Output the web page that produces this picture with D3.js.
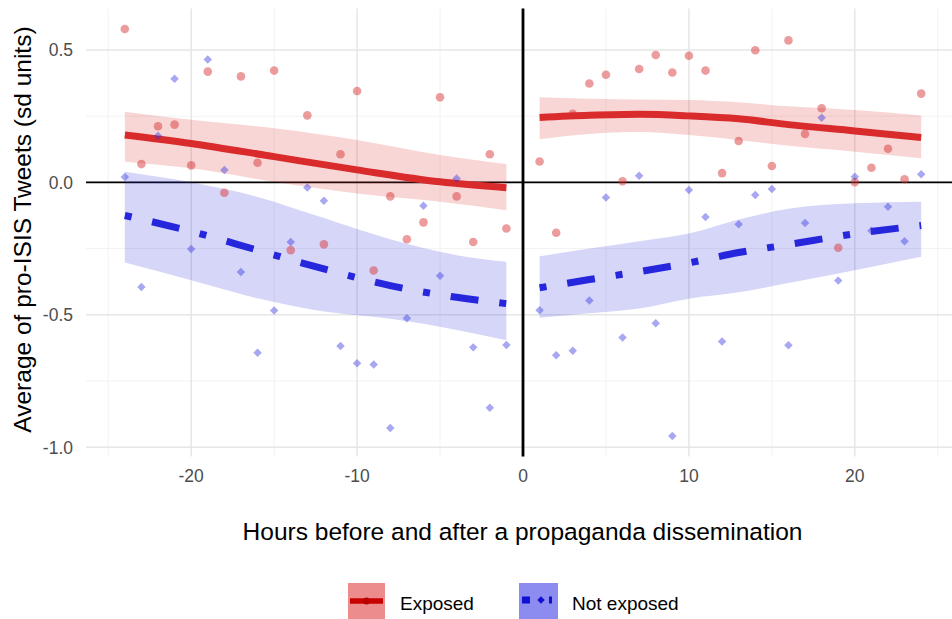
<!DOCTYPE html>
<html>
<head>
<meta charset="utf-8">
<script src="https://cdn.jsdelivr.net/npm/d3@7"></script>
<style>
  html, body { margin: 0; padding: 0; background: #ffffff; }
  svg { display: block; font-family: "Liberation Sans", Arial, Helvetica, sans-serif; }
</style>
</head>
<body>
<svg id="chart" width="952" height="619"></svg>
<script>
// Hours relative to the propaganda release (hour 0 is excluded)
const hoursBefore = [-24,-23,-22,-21,-20,-19,-18,-17,-16,-15,-14,-13,-12,-11,-10,-9,-8,-7,-6,-5,-4,-3,-2,-1];
const hoursAfter  = [1,2,3,4,5,6,7,8,9,10,11,12,13,14,15,16,17,18,19,20,21,22,23,24];

// Hourly means (sd units), exposed accounts
const exposedBefore = [0.579,0.069,0.212,0.218,0.064,0.418,-0.039,0.400,0.074,0.422,-0.256,0.253,
                       -0.234,0.106,0.345,-0.333,-0.053,-0.215,-0.151,0.321,-0.053,-0.225,0.106,-0.174];
const exposedAfter  = [0.079,-0.190,0.259,0.373,0.406,0.004,0.428,0.481,0.415,0.478,0.422,0.035,
                       0.156,0.499,0.062,0.536,0.183,0.280,-0.247,0.001,0.055,0.127,0.012,0.335];

// Hourly means (sd units), non-exposed accounts
const notExposedBefore = [0.020,-0.395,0.176,0.391,-0.252,0.464,0.047,-0.338,-0.643,-0.484,-0.225,-0.019,
                          -0.069,-0.618,-0.683,-0.688,-0.927,-0.513,-0.088,-0.353,0.015,-0.623,-0.851,-0.614];
const notExposedAfter  = [-0.483,-0.653,-0.636,-0.446,-0.057,-0.586,0.025,-0.532,-0.958,-0.029,-0.131,-0.601,
                          -0.158,-0.048,-0.025,-0.615,-0.153,0.244,-0.371,0.021,-0.183,-0.092,-0.222,0.031];

// Smoothed trends with confidence bands
const exposedFitHoursBefore = [-24,-20,-15,-10,-5,-1];
const exposedFitBefore      = [0.179,0.147,0.097,0.047,0.002,-0.020];
const exposedUpperBefore    = [0.267,0.236,0.204,0.160,0.103,0.069];
const exposedLowerBefore    = [0.078,0.053,0.002,-0.042,-0.073,-0.105];

const exposedFitHoursAfter = [1,4,7,10,13,16,20,24];
const exposedFitAfter      = [0.245,0.253,0.257,0.251,0.240,0.218,0.194,0.169];
const exposedUpperAfter    = [0.321,0.316,0.313,0.311,0.302,0.287,0.273,0.252];
const exposedLowerAfter    = [0.163,0.183,0.190,0.179,0.160,0.138,0.116,0.091];

const notExposedFitHoursBefore = [-24,-20,-16,-12,-8,-4,-1];
const notExposedFitBefore      = [-0.125,-0.185,-0.256,-0.327,-0.390,-0.434,-0.458];
const notExposedUpperBefore    = [0.040,0.000,-0.055,-0.135,-0.215,-0.275,-0.300];
const notExposedLowerBefore    = [-0.303,-0.370,-0.438,-0.488,-0.515,-0.557,-0.596];

const notExposedFitHoursAfter = [1,4,7,10,13,16,20,24];
const notExposedFitAfter      = [-0.398,-0.367,-0.337,-0.304,-0.265,-0.235,-0.194,-0.163];
const notExposedUpperAfter    = [-0.279,-0.250,-0.222,-0.193,-0.140,-0.100,-0.079,-0.073];
const notExposedLowerAfter    = [-0.511,-0.494,-0.476,-0.439,-0.415,-0.380,-0.332,-0.281];

// Axis breaks
const xMajor = [-20,-10,0,10,20];
const xMinor = [-25,-15,-5,5,15,25];
const yMajor = [0.5,0.0,-0.5,-1.0];
const yMinor = [0.25,-0.25,-0.75];

const groups = ["Exposed", "Not exposed"];

// ---- drawing ----
const svg = d3.select("#chart");
const W = 952, H = 619;
svg.append("rect").attr("width", W).attr("height", H).attr("fill", "#ffffff");

const x = d3.scaleLinear().domain([-26.4, 26.4]).range([85, 961]);
const y = d3.scaleLinear().domain([-1.035, 0.656]).range([456.5, 8.6]);

const panelLeft = 86, panelRight = W, panelTop = y.range()[1], panelBottom = y.range()[0];

const colors = {
  exposed:   { line: "#d92b2b", band: "rgba(221,51,51,0.2)", point: "rgba(216,48,48,0.48)", key: "#ec8c8c", keyLine: "#c80000" },
  notExposed:{ line: "#2626dc", band: "rgba(48,48,224,0.2)", point: "rgba(48,48,224,0.42)", key: "#8c8cf0", keyLine: "#1010d0" }
};

// grid
const grid = svg.append("g");
grid.selectAll(".xminor").data(xMinor).join("line")
  .attr("x1", d => x(d)).attr("x2", d => x(d))
  .attr("y1", panelTop).attr("y2", panelBottom)
  .attr("stroke", "#f0f0f0").attr("stroke-width", 0.9);
grid.selectAll(".yminor").data(yMinor).join("line")
  .attr("x1", panelLeft).attr("x2", panelRight)
  .attr("y1", d => y(d)).attr("y2", d => y(d))
  .attr("stroke", "#f0f0f0").attr("stroke-width", 0.9);
grid.selectAll(".xmajor").data(xMajor).join("line")
  .attr("x1", d => x(d)).attr("x2", d => x(d))
  .attr("y1", panelTop).attr("y2", panelBottom)
  .attr("stroke", "#e6e6e6").attr("stroke-width", 1.5);
grid.selectAll(".ymajor").data(yMajor).join("line")
  .attr("x1", panelLeft).attr("x2", panelRight)
  .attr("y1", d => y(d)).attr("y2", d => y(d))
  .attr("stroke", "#e6e6e6").attr("stroke-width", 1.5);

// reference lines at zero
svg.append("line")
  .attr("x1", panelLeft).attr("x2", panelRight)
  .attr("y1", y(0)).attr("y2", y(0))
  .attr("stroke", "#000").attr("stroke-width", 1.6);
svg.append("line")
  .attr("x1", x(0)).attr("x2", x(0))
  .attr("y1", panelTop).attr("y2", panelBottom)
  .attr("stroke", "#000").attr("stroke-width", 2.8);

// smooth bands and lines
const zip = (hs, fit, lo, hi) => hs.map((h, i) => ({ h, fit: fit[i], lo: lo[i], hi: hi[i] }));
const smooths = [
  { d: zip(notExposedFitHoursBefore, notExposedFitBefore, notExposedLowerBefore, notExposedUpperBefore), c: colors.notExposed, dash: "7,21,28,21" },
  { d: zip(notExposedFitHoursAfter,  notExposedFitAfter,  notExposedLowerAfter,  notExposedUpperAfter),  c: colors.notExposed, dash: "7,21,28,21" },
  { d: zip(exposedFitHoursBefore, exposedFitBefore, exposedLowerBefore, exposedUpperBefore), c: colors.exposed, dash: null },
  { d: zip(exposedFitHoursAfter,  exposedFitAfter,  exposedLowerAfter,  exposedUpperAfter),  c: colors.exposed, dash: null }
];
const area = d3.area().x(d => x(d.h)).y0(d => y(d.lo)).y1(d => y(d.hi)).curve(d3.curveMonotoneX);
const line = d3.line().x(d => x(d.h)).y(d => y(d.fit)).curve(d3.curveMonotoneX);

smooths.forEach(s => {
  svg.append("path").attr("d", area(s.d)).attr("fill", s.c.band).attr("stroke", "none");
});
smooths.forEach(s => {
  const p = svg.append("path").attr("d", line(s.d))
    .attr("fill", "none").attr("stroke", s.c.line).attr("stroke-width", 7)
    .attr("stroke-linecap", "butt").attr("stroke-linejoin", "round");
  if (s.dash) p.attr("stroke-dasharray", s.dash);
});

// points
const pts = (hs, vs) => hs.map((h, i) => ({ h, v: vs[i] }));
const exposedPts = pts(hoursBefore, exposedBefore).concat(pts(hoursAfter, exposedAfter));
const notExposedPts = pts(hoursBefore, notExposedBefore).concat(pts(hoursAfter, notExposedAfter));

svg.append("g").selectAll("circle").data(exposedPts).join("circle")
  .attr("cx", d => x(d.h)).attr("cy", d => y(d.v)).attr("r", 4.3)
  .attr("fill", colors.exposed.point);

const diamond = d3.symbol().type(d3.symbolDiamond2).size(46);
svg.append("g").selectAll("path").data(notExposedPts).join("path")
  .attr("transform", d => `translate(${x(d.h)},${y(d.v)})`)
  .attr("d", diamond)
  .attr("fill", colors.notExposed.point);

// axis labels
const tickFont = 17.5;
svg.append("g").selectAll("text").data(xMajor).join("text")
  .attr("x", d => x(d)).attr("y", 482)
  .attr("text-anchor", "middle").attr("font-size", tickFont).attr("fill", "#4d4d4d")
  .text(d => d3.format("d")(d).replace("−", "-"));
svg.append("g").selectAll("text").data(yMajor).join("text")
  .attr("x", 73).attr("y", d => y(d)).attr("dy", "0.36em")
  .attr("text-anchor", "end").attr("font-size", tickFont).attr("fill", "#4d4d4d")
  .text(d => d3.format(".1f")(d).replace("−", "-"));

svg.append("text")
  .attr("x", 522.5).attr("y", 540)
  .attr("text-anchor", "middle").attr("font-size", 24.5).attr("fill", "#000")
  .text("Hours before and after a propaganda dissemination");
svg.append("text")
  .attr("transform", `translate(31,${(panelTop + panelBottom) / 2 - 3}) rotate(-90)`)
  .attr("text-anchor", "middle").attr("font-size", 24.5).attr("fill", "#000")
  .text("Average of pro-ISIS Tweets (sd units)");

// legend
const legend = svg.append("g");
// Exposed key
legend.append("rect").attr("x", 348).attr("y", 583).attr("width", 37).attr("height", 37)
  .attr("fill", colors.exposed.key);
legend.append("line").attr("x1", 350).attr("x2", 383).attr("y1", 601).attr("y2", 601)
  .attr("stroke", colors.exposed.keyLine).attr("stroke-width", 5.5);
legend.append("circle").attr("cx", 366.5).attr("cy", 601).attr("r", 3.5)
  .attr("fill", "#b80000");
legend.append("text").attr("x", 400).attr("y", 610)
  .attr("font-size", 19).attr("fill", "#000").text(groups[0]);
// Not exposed key
legend.append("rect").attr("x", 519).attr("y", 583).attr("width", 39).attr("height", 37)
  .attr("fill", colors.notExposed.key);
legend.append("line").attr("x1", 522).attr("x2", 556).attr("y1", 600).attr("y2", 600)
  .attr("stroke", colors.notExposed.keyLine).attr("stroke-width", 7)
  .attr("stroke-dasharray", "8,19,3,20");
legend.append("path").attr("transform", "translate(541,600)")
  .attr("d", d3.symbol().type(d3.symbolDiamond2).size(36))
  .attr("fill", colors.notExposed.keyLine);
legend.append("text").attr("x", 572).attr("y", 610)
  .attr("font-size", 19).attr("fill", "#000").text(groups[1]);
</script>
</body>
</html>
